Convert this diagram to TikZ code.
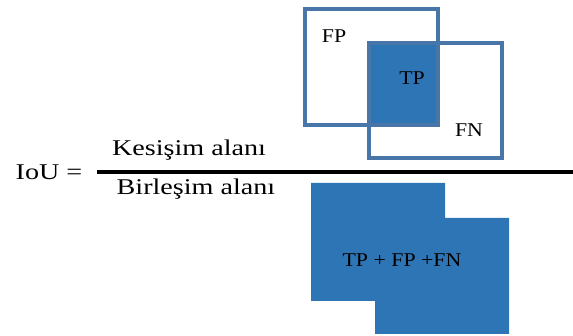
\documentclass[tikz,border=0pt]{standalone}
\usepackage{fontspec}
\setmainfont{Liberation Serif}
\definecolor{boxline}{RGB}{72,118,168}
\definecolor{boxfill}{RGB}{46,117,182}

\begin{document}
\begin{tikzpicture}[x=1pt,y=-1pt]
        \tikzstyle{every path}=[line width=4pt]

        \def\bigfont{\fontsize{22.5}{25}\selectfont}
        \def\boxfont{\fontsize{19.5}{22}\selectfont}
        \tikzstyle{formula}=[anchor=base,inner sep=0pt,xscale=1.25,transform shape,font=\bigfont]
        \tikzstyle{boxlabel}=[anchor=base,inner sep=0pt,xscale=1.12,transform shape,font=\boxfont]
        \tikzstyle{frame}=[draw=boxline]

        \useasboundingbox (0,0) rectangle (573,336);

        % overlapping boxes above the bar
        \fill[boxfill] (369,43) rectangle (438,125);
        \draw[frame] (305,9) rectangle (438,125);
        \draw[frame] (369,43) rectangle (502,158);

        \node[boxlabel] (fp) at (334,43) {FP};
        \node[boxlabel] (tp) at (412,85) {TP};
        \node[boxlabel] (fn) at (469,137) {FN};

        % the fraction
        \node[formula] (iou) at (49,180) {IoU =};
        \node[formula] (kesisim) at (189,156) {Kesişim alanı};
        \node[formula] (birlesim) at (196,195) {Birleşim alanı};
        \coordinate (barleft) at (97,172);
        \coordinate (barright) at (573,172);
        \draw[black] (barleft) -- (barright);

        % union below the bar
        \fill[boxfill] (311,183) -- (445,183) -- (445,218) -- (509,218)
            -- (509,334) -- (375,334) -- (375,301) -- (311,301) -- cycle;
        \node[boxlabel] (union) at (402,267) {TP + FP +FN};
\end{tikzpicture}
\end{document}
